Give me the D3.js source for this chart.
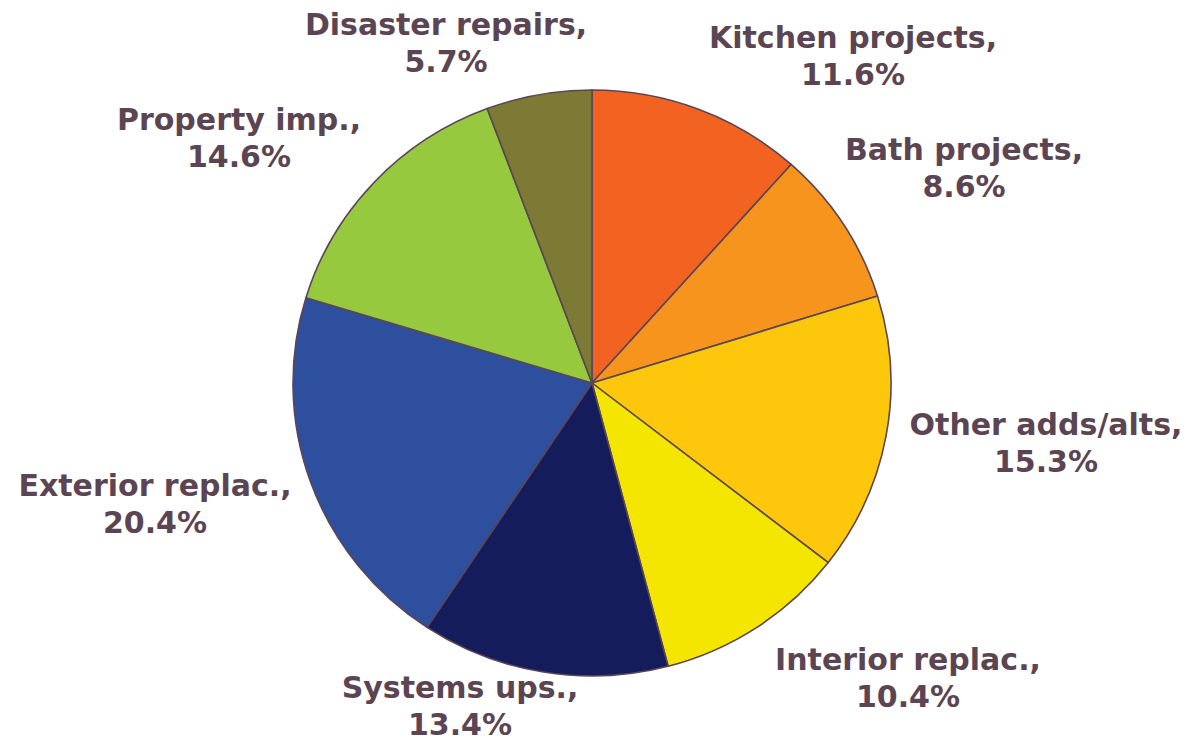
<!DOCTYPE html>
<html>
<head>
<meta charset="utf-8">
<script src="https://cdn.jsdelivr.net/npm/d3@7"></script>
<style>
  html, body { margin: 0; padding: 0; background: #ffffff; }
  svg { display: block; }
</style>
</head>
<body>
<svg id="chart" width="1192" height="743"></svg>
<script>
// Remodeling spending by project type (share of total, %)
const categories = [
  "Kitchen projects", "Bath projects", "Other adds/alts", "Interior replac.",
  "Systems ups.", "Exterior replac.", "Property imp.", "Disaster repairs"
];
const shares = [11.6, 8.6, 15.3, 10.4, 13.4, 20.4, 14.6, 5.7];
const sliceColors = [
  "#f26322", "#f7941e", "#fdc70c", "#f4e600",
  "#141c5b", "#2d4f9e", "#96c93d", "#7d7a35"
];

// Label anchors: centre x and first-line baseline y, in px
const labelAnchors = [
  [853, 48], [964, 160], [1046, 435], [908, 670],
  [460, 698], [155, 496], [239, 130], [446, 35]
];

const W = 1192, H = 743;
const cx = 592, cy = 383, rx = 299, ry = 293;
const lineGap = 37;

const svg = d3.select("#chart");

const pie = d3.pie().sort(null).value(d => d.value);
const data = categories.map((c, i) => ({ name: c, value: shares[i], color: sliceColors[i] }));
const arcs = pie(data);

const arc = d3.arc().innerRadius(0).outerRadius(rx);

const g = svg.append("g")
  .attr("transform", `translate(${cx},${cy}) scale(1,${ry / rx})`);

g.selectAll("path")
  .data(arcs)
  .join("path")
  .attr("d", arc)
  .attr("fill", d => d.data.color)
  .attr("stroke", "#5b4656")
  .attr("stroke-width", 1.6)
  .attr("stroke-linejoin", "round");

const fmt = v => v.toFixed(1) + "%";

const labels = svg.append("g")
  .attr("font-family", "Verdana, 'DejaVu Sans', sans-serif")
  .attr("font-weight", "bold")
  .attr("font-size", 30)
  .attr("fill", "#5c4552")
  .attr("text-anchor", "middle");

labels.selectAll("text")
  .data(arcs)
  .join("text")
  .attr("transform", (d, i) => `translate(${labelAnchors[i][0]},${labelAnchors[i][1]})`)
  .each(function(d) {
    const t = d3.select(this);
    t.append("tspan").attr("x", 0).attr("y", 0).text(d.data.name + ",");
    t.append("tspan").attr("x", 0).attr("y", lineGap).text(fmt(d.data.value));
  });
</script>
</body>
</html>
